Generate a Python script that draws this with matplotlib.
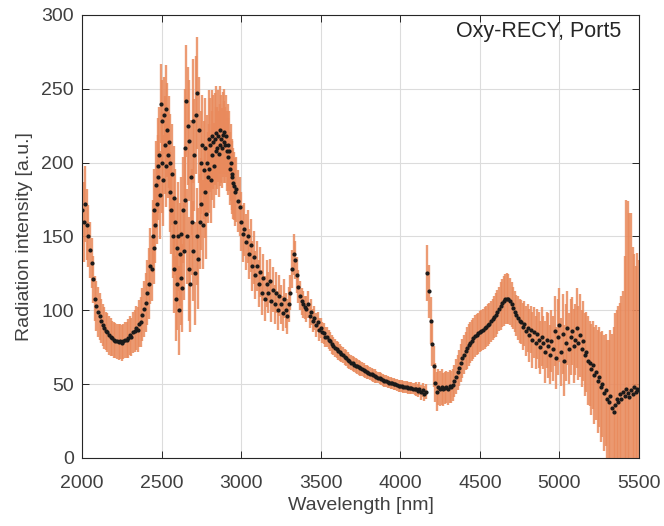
import numpy as np
import matplotlib
matplotlib.use('Agg')
import matplotlib.pyplot as plt

plt.rcParams['font.family'] = ['Liberation Sans', 'DejaVu Sans']

# ---- data ----
# segment A: 2000-2430 nm, 10 nm step
wl_a = np.arange(2000, 2431, 10)
int_a = [168, 160, 172, 158, 150, 141, 132, 121, 108, 103,
         99, 96, 93, 90, 88, 86, 85, 83, 82, 81,
         80, 79.5, 79, 78.5, 79, 78, 79, 80, 80, 81,
         83, 82, 85, 86, 88, 87, 91, 92, 97, 101,
         105, 112, 118, 130]
err_a = [28, 27, 26, 24, 21, 19, 17, 16, 15, 17,
         17, 16, 15, 14, 14, 13, 13, 13, 13, 12,
         12, 12, 12, 12, 12, 12, 12, 12, 12, 13,
         13, 13, 14, 14, 15, 15, 16, 17, 18, 19,
         20, 22, 24, 26]

# segment B: 2440-2960 nm, 5 nm step (noisy band region)
wl_b = np.arange(2440, 2961, 5)
int_b = [128, 150, 142, 168, 158, 185, 172, 198, 190, 205,
         178, 240, 200, 228, 188, 232, 212, 236, 198, 222,
         205, 214, 180, 200, 168, 192, 150, 176, 128, 160,
         108, 142, 118, 150, 100, 138, 122, 152, 115, 168,
         140, 210, 175, 242, 150, 225, 128, 215, 118, 190,
         160, 228, 140, 205, 125, 232, 150, 247, 135, 222,
         160, 200, 172, 212, 158, 195, 180, 210, 165, 200,
         190, 216, 196, 212, 188, 218, 205, 214, 198, 216,
         208, 220, 210, 218, 206, 222, 212, 216, 210, 219,
         214, 221, 212, 218, 208, 212, 204, 208, 196, 200,
         190, 192, 186, 184, 180]
err_b = [22, 25, 24, 28, 26, 30, 27, 32, 29, 33,
         30, 27, 34, 28, 31, 26, 33, 30, 28, 32,
         29, 31, 27, 33, 30, 34, 28, 35, 30, 36,
         29, 34, 31, 37, 30, 35, 32, 38, 30, 36,
         33, 40, 34, 38, 32, 40, 35, 41, 33, 39,
         36, 42, 34, 38, 35, 40, 33, 38, 34, 36,
         32, 35, 31, 34, 30, 33, 31, 34, 30, 32,
         31, 33, 30, 32, 29, 31, 30, 32, 29, 31,
         30, 32, 28, 31, 29, 30, 28, 30, 27, 29,
         28, 29, 26, 28, 27, 28, 26, 27, 25, 26,
         25, 24, 24, 23, 23]

# segment C1: 2970-3400 nm
wl_c1 = np.arange(2970, 3401, 10)
int_c1 = [182, 174, 170, 160, 152, 155, 146, 150, 138, 144,
          130, 136, 124, 130, 118, 126, 112, 122, 108, 118,
          112, 120, 106, 114, 104, 112, 100, 110, 104, 98,
          108, 100, 96, 104, 112, 128, 138, 134, 124, 116,
          110, 106, 104, 102]
err_c1 = [22, 21, 20, 20, 19, 18, 19, 18, 17, 18,
          17, 18, 16, 17, 16, 17, 15, 16, 15, 16,
          14, 15, 14, 15, 13, 14, 13, 14, 13, 12,
          13, 12, 12, 12, 12, 13, 14, 13, 12, 11,
          10, 9, 9, 8]

# segment C2: 3410-4160 nm
wl_c2 = np.arange(3410, 4161, 10)
int_c2 = [101, 104, 96, 99, 93, 95, 90, 92, 87, 88,
          85, 84.5, 82, 82, 80, 79, 77, 76, 74.5, 73.5,
          72.5, 71.5, 70.5, 69.5, 68.5, 67.5, 66.5, 65.5, 64.5, 64,
          63.3, 62.6, 62, 61.4, 60.8, 60.2, 59.5, 58.8, 58.2, 57.7,
          57.2, 56.6, 56, 55.5, 55, 54.5, 54, 53.4, 52.8, 52.3,
          51.9, 51.5, 51.1, 50.8, 50.5, 50.2, 49.8, 49.4, 49, 48.7,
          48.5, 48.3, 48, 47.8, 47.6, 47.4, 47.2, 47, 46.6, 46.8,
          45.5, 47, 44.5, 46, 43.5, 45]
err_c2 = [9, 9, 8, 9, 8, 8, 8, 7, 8, 7,
          7, 7, 7, 7, 6.5, 6.5, 6.5, 6, 6, 6,
          6, 6, 5.5, 5.5, 5.5, 5.5, 5.5, 5, 5, 5,
          5, 5, 5, 5, 5, 4.5, 4.5, 4.5, 4.5, 4.5,
          4.5, 4.5, 4.5, 4.5, 4, 4, 4, 4, 4, 4,
          4, 4, 4, 4, 4, 4, 4, 4, 4, 4,
          4, 4, 4, 4, 4, 4, 4, 4, 4, 4.5,
          4.5, 4.5, 5, 5, 5, 5]

# segment C3: 4170-4750 nm
wl_c3 = np.arange(4170, 4751, 10)
int_c3 = [125, 113, 93, 77, 62, 51, 45, 48, 47, 48,
          46.5, 47.5, 48, 47, 48.5, 48, 49.5, 52, 55, 58,
          61, 64.5, 67.5, 70, 72.5, 74.5, 76.5, 78, 79.5, 81,
          82.5, 83.5, 84.5, 85.5, 86.3, 87, 88, 89, 90, 91,
          92.5, 94, 95.5, 97, 99, 101, 103, 105, 106.5, 107.5,
          108, 107.5, 106, 104, 101.5, 99, 96.5, 95, 93]
err_c3 = [19, 18, 16, 15, 14, 13, 13, 12, 12, 12,
          11, 11, 11, 11, 11, 11, 11, 11, 12, 12,
          12, 13, 13, 13, 13, 14, 14, 14, 14, 14,
          14, 14, 14, 14, 14, 14, 14, 14, 14, 14,
          14, 14, 14, 15, 15, 15, 16, 16, 17, 17,
          17, 17, 16, 15, 14, 14, 14, 15, 15]

# segment C4: 4760-5500 nm
wl_c4 = np.arange(4760, 5501, 10)
int_c4 = [92, 89, 91, 86, 88, 83, 87, 80, 85, 78,
          84, 80, 75, 82, 78, 72, 80, 76, 70, 79,
          74, 86, 68, 82, 90, 72, 84, 66, 78, 88,
          74, 82, 86, 76, 80, 88, 78, 83, 74, 79,
          70, 72, 66, 64, 60, 63, 56, 58, 52, 55,
          48, 50, 44, 46, 40, 38, 42, 34, 31, 36,
          40, 38, 43, 40, 45, 42, 47, 44, 41, 46,
          43, 48, 45, 47, 46]
err_c4 = [15, 16, 15, 17, 16, 18, 16, 19, 17, 18,
          17, 19, 18, 20, 18, 21, 19, 22, 20, 21,
          22, 24, 21, 26, 25, 23, 27, 24, 26, 25,
          24, 26, 23, 25, 24, 27, 25, 28, 26, 27,
          28, 27, 30, 29, 31, 30, 33, 32, 35, 34,
          37, 36, 39, 38, 40, 42, 45, 50, 58, 62,
          60, 65, 62, 70, 68, 95, 128, 130, 125, 120,
          100, 90, 85, 92, 88]

wavelength = np.concatenate([wl_a, wl_b, wl_c1, wl_c2, wl_c3, wl_c4])
intensity = np.concatenate([int_a, int_b, int_c1, int_c2, int_c3, int_c4])
error = np.concatenate([err_a, err_b, err_c1, err_c2, err_c3, err_c4])

text_color = '#404040'

fig = plt.figure(figsize=(6.64, 5.26), dpi=100)
ax = fig.add_axes([0.1235, 0.1293, 0.8388, 0.8422])

ax.errorbar(wavelength, intensity, yerr=error, fmt='none',
            ecolor='#E98A5C', elinewidth=1.7, alpha=0.85, capsize=0)
ax.plot(wavelength, intensity, '.', color='#1a1a1a', markersize=4)

ax.set_xlim(2000, 5500)
ax.set_ylim(0, 300)
ax.set_xticks(np.arange(2000, 5501, 500))
ax.set_yticks(np.arange(0, 301, 50))

ax.grid(True, color='#dcdcdc', linewidth=0.8)
ax.set_axisbelow(True)
ax.tick_params(direction='in', top=True, right=True, length=5,
               width=0.7, colors='#262626', labelcolor=text_color,
               labelsize=14)
ax.tick_params(axis='x', pad=12)
ax.tick_params(axis='y', pad=6)
for s in ax.spines.values():
    s.set_color('#262626')
    s.set_linewidth(0.8)

ax.set_xlabel('Wavelength [nm]', fontsize=14, color=text_color, labelpad=4)
ax.set_ylabel('Radiation intensity [a.u.]', fontsize=14, color=text_color, labelpad=6)
ax.text(0.968, 0.962, 'Oxy-RECY, Port5', transform=ax.transAxes,
        ha='right', va='center', fontsize=15.5, color='#262626')

fig.savefig('out.png', dpi=100)
